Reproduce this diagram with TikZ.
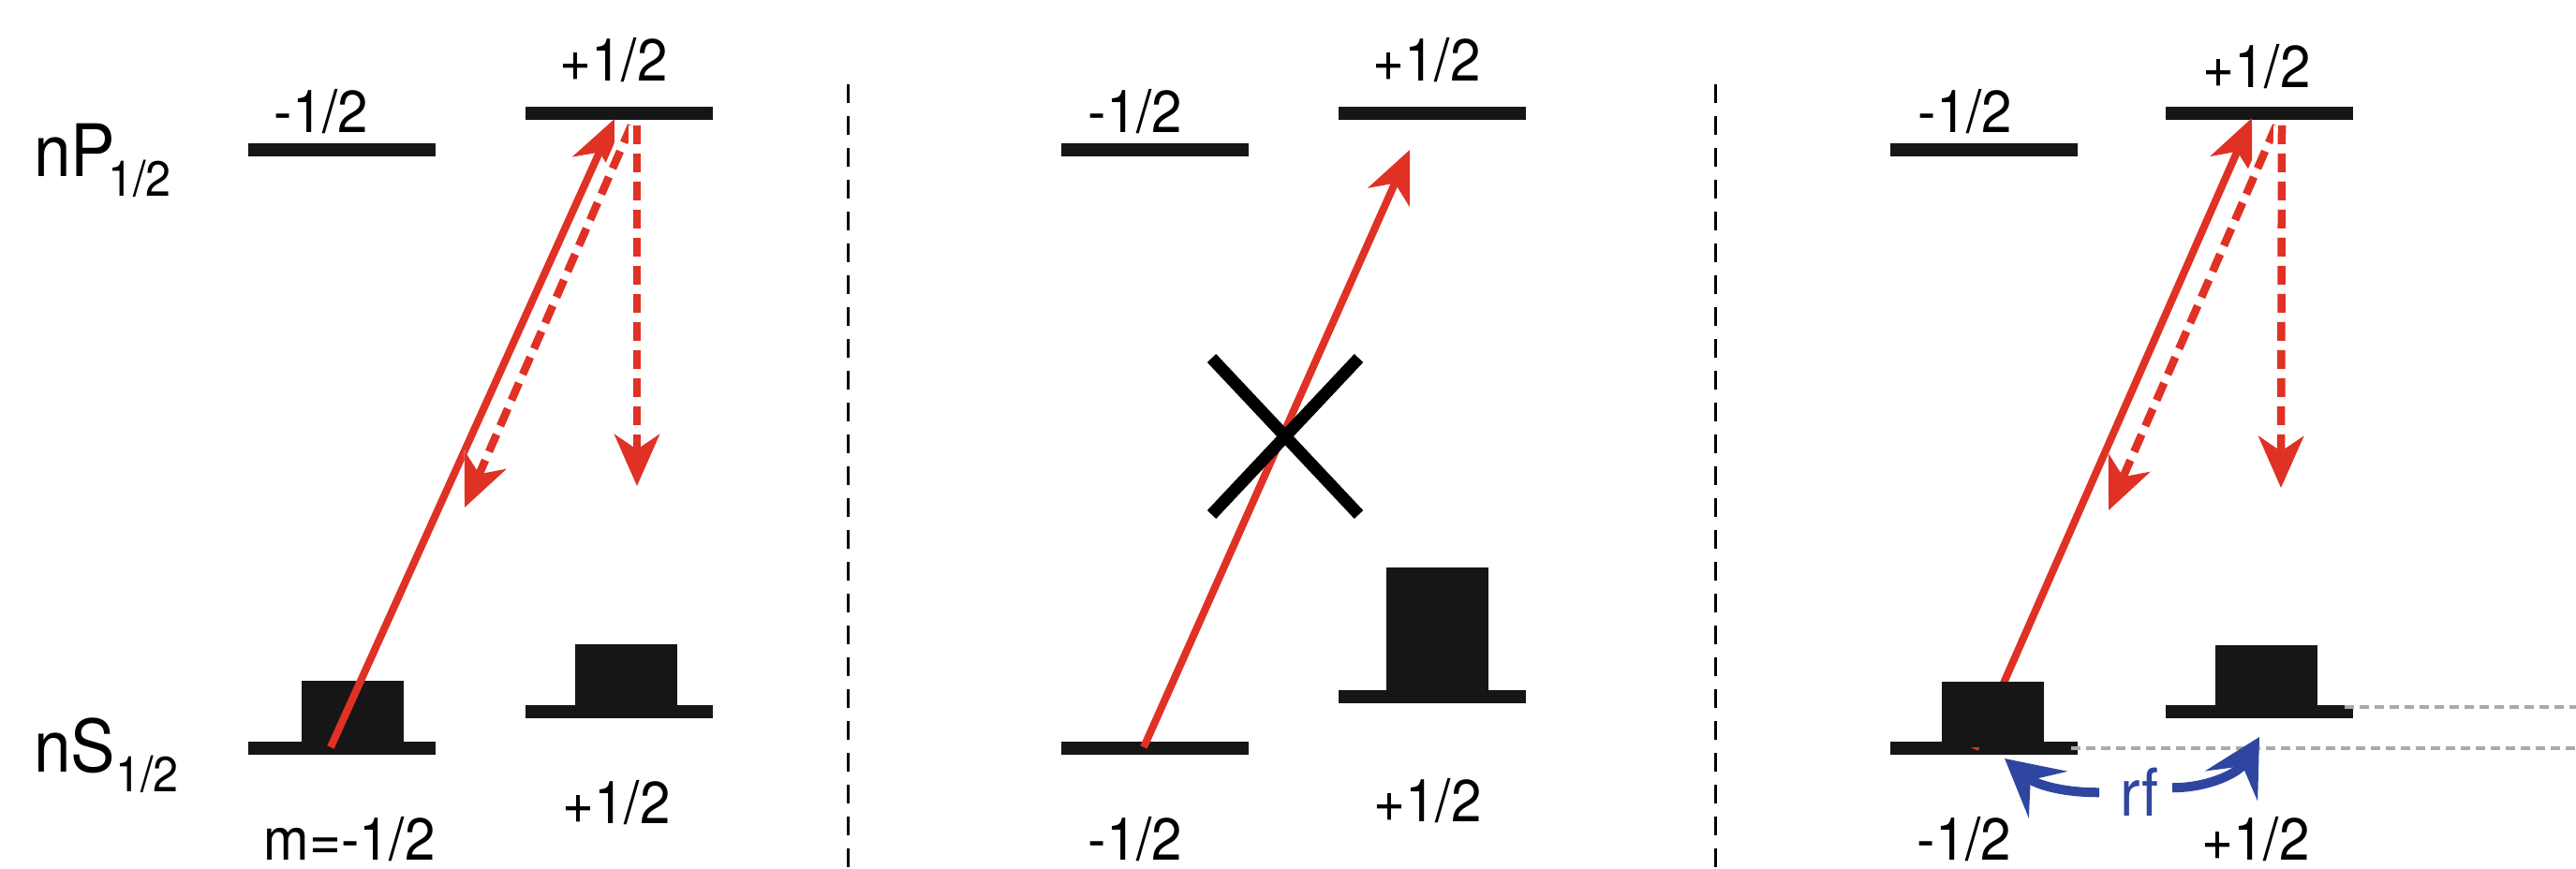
\documentclass[tikz,border=0pt]{standalone}
\usepackage{fontspec}
\setmainfont{TeX Gyre Heros}[FakeStretch=0.92]
\usepackage{tikz}
\usetikzlibrary{arrows.meta,shapes.misc,positioning}
\definecolor{laser}{RGB}{224,49,37}
\definecolor{rfblue}{RGB}{46,70,160}
\definecolor{lvlblack}{RGB}{22,22,22}
\definecolor{guidegray}{RGB}{170,170,170}

\begin{document}
\begin{tikzpicture}[>=Stealth,thick]
		\tikzstyle{lvl}=[rectangle,fill=lvlblack,inner sep=0pt,minimum width=2cm,minimum height=0.14cm]
		\tikzstyle{pop}=[rectangle,fill=lvlblack,inner sep=0pt,minimum width=1.09cm,anchor=south]
		\tikzstyle{mlab}=[inner sep=0pt,anchor=base,font=\fontsize{18}{18}\selectfont]
		\tikzstyle{term}=[inner sep=0pt,anchor=base west,font=\fontsize{22}{22}\selectfont]
		\tikzstyle{pump}=[laser,line width=0.08cm,-{Stealth[length=0.55cm,width=0.48cm,inset=0.16cm]}]
		\tikzstyle{decay}=[pump,line width=0.085cm,dash pattern=on 0.2cm off 0.1cm,preaction={draw=white,line width=0.18cm,solid}]
		\tikzstyle{divider}=[black,line width=0.03cm,dash pattern=on 0.2cm off 0.14cm]
		\tikzstyle{guide}=[guidegray,line width=0.04cm,dash pattern=on 0.1cm off 0.06cm]
		\tikzstyle{rfarrow}=[rfblue,line width=0.1cm,-{Stealth[length=0.6cm,width=0.64cm,inset=0.24cm]}]
		\tikzstyle{blockx}=[draw=black,cross out,inner sep=0pt,line width=0.13cm,minimum width=1.44cm,minimum height=1.54cm]
		
		\useasboundingbox (0,0) rectangle (27.5,-9.28);
		
		% term labels
		\node[term] (np) at (0.35,-1.89) {nP\kern-0.08cm\raisebox{-0.21cm}{\fontsize{15}{15}\selectfont 1/2}};
		\node[term] (ns) at (0.35,-8.25) {nS\raisebox{-0.21cm}{\fontsize{15}{15}\selectfont 1/2}};
		
		% panel 1: optical pumping
		\node[lvl] (p1m) at (3.65,-1.60) {};
		\node[lvl] (p1p) at (6.61,-1.21) {};
		\node[lvl] (s1m) at (3.65,-7.99) {};
		\node[lvl] (s1p) at (6.61,-7.60) {};
		\node[pop,minimum height=0.71cm] (b1m) at (3.76,-7.99) {};
		\node[pop,minimum height=0.71cm] (b1p) at (6.685,-7.60) {};
		\node[mlab] (l1a) at (3.43,-1.42) {-1/2};
		\node[mlab] (l1b) at (6.55,-0.87) {+1/2};
		\node[mlab] (l1c) at (6.58,-8.80) {+1/2};
		\node[mlab] (l1d) at (3.73,-9.19) {m=-1/2};
		\coordinate (a1) at (3.53,-7.98);
		\coordinate (a1t) at (6.56,-1.27);
		\coordinate (d1) at (6.74,-1.34);
		\coordinate (d1t) at (4.96,-5.42);
		\coordinate (v1) at (6.80,-1.34);
		\coordinate (v1t) at (6.80,-5.19);
		\draw[pump] (a1) -- (a1t);
		\draw[decay] (d1) -- (d1t);
		\draw[decay] (v1) -- (v1t);
		
		\draw[divider] (9.05,-0.90) -- (9.05,-9.28);
		
		% panel 2: pumping blocked
		\node[lvl] (p2m) at (12.33,-1.60) {};
		\node[lvl] (p2p) at (15.29,-1.21) {};
		\node[lvl] (s2m) at (12.33,-7.99) {};
		\node[lvl] (s2p) at (15.29,-7.44) {};
		\node[pop,minimum height=1.37cm] (b2p) at (15.34,-7.44) {};
		\node[mlab] (l2a) at (12.12,-1.42) {-1/2};
		\node[mlab] (l2b) at (15.23,-0.87) {+1/2};
		\node[mlab] (l2c) at (15.24,-8.78) {+1/2};
		\node[mlab] (l2d) at (12.12,-9.19) {-1/2};
		\coordinate (a2) at (12.21,-7.98);
		\coordinate (a2t) at (15.05,-1.60);
		\draw[pump] (a2) -- (a2t);
		\node[blockx] (block) at (13.72,-4.66) {};
		
		\draw[divider] (18.31,-0.90) -- (18.31,-9.28);
		
		% panel 3: pumping with rf mixing
		\node[lvl] (p3m) at (21.18,-1.60) {};
		\node[lvl] (p3p) at (24.12,-1.21) {};
		\node[lvl] (s3m) at (21.18,-7.99) {};
		\node[lvl] (s3p) at (24.12,-7.60) {};
		\coordinate (a3) at (21.08,-8.00);
		\coordinate (a3t) at (24.04,-1.26);
		\draw[pump] (a3) -- (a3t);
		\node[pop,minimum height=0.70cm] (b3m) at (21.27,-7.99) {};
		\node[pop,minimum height=0.70cm] (b3p) at (24.19,-7.60) {};
		\node[mlab] (l3a) at (20.98,-1.42) {-1/2};
		\node[mlab] (l3b) at (24.09,-0.94) {+1/2};
		\node[mlab] (l3c) at (20.97,-9.19) {-1/2};
		\node[mlab] (l3d) at (24.08,-9.19) {+1/2};
		\coordinate (d3) at (24.30,-1.34);
		\coordinate (d3t) at (22.51,-5.45);
		\coordinate (v3) at (24.36,-1.34);
		\coordinate (v3t) at (24.35,-5.21);
		\draw[decay] (d3) -- (d3t);
		\draw[decay] (v3) -- (v3t);
		\coordinate (g1) at (27.5,-7.99);
		\coordinate (g2) at (27.5,-7.55);
		\draw[guide] ([xshift=-0.08cm]s3m.east) -- (g1);
		\draw[guide] ([xshift=-0.1cm,yshift=0.05cm]s3p.east) -- (g2);
		\node[inner sep=0pt,anchor=base,text=rfblue,font=\fontsize{20}{20}\selectfont] (rf) at (22.84,-8.72) {rf};
		\coordinate (rfl) at (21.40,-8.10);
		\coordinate (rfr) at (24.12,-7.87);
		\draw[rfarrow] ([xshift=-0.21cm]rf.west) to[bend left=20] (rfl);
		\draw[rfarrow] ([xshift=0.13cm,yshift=0.05cm]rf.east) to[bend right=30] (rfr);
	\end{tikzpicture}
\end{document}
